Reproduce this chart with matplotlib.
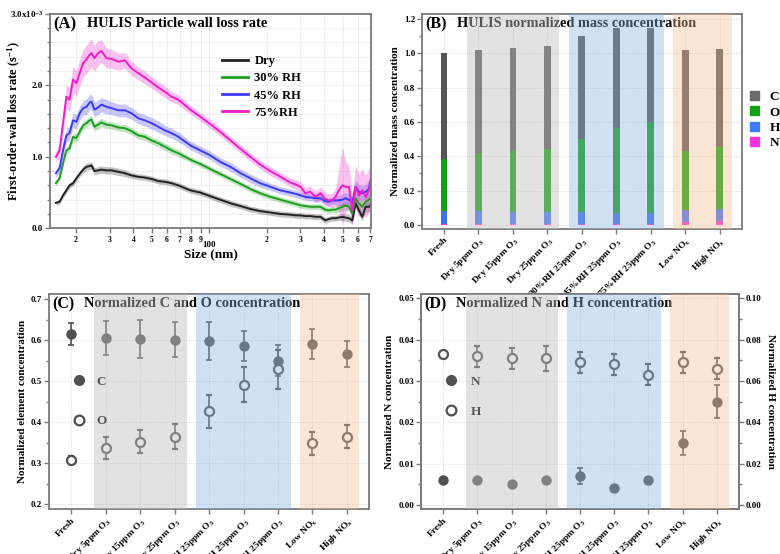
import numpy as np
import matplotlib
matplotlib.use("Agg")
import matplotlib.pyplot as plt
from matplotlib.patches import Patch
from matplotlib.lines import Line2D
from matplotlib.ticker import MultipleLocator

plt.rcParams.update({
    'font.family': ['Liberation Serif', 'DejaVu Serif'],
    'font.weight': 'bold',
    'axes.labelweight': 'bold',
    'mathtext.fontset': 'custom',
    'mathtext.rm': 'Liberation Serif:bold',
    'mathtext.it': 'Liberation Serif:italic:bold',
    'mathtext.bf': 'Liberation Serif:bold',
})

# ---------------- (A) wall loss rate vs. particle size ----------------
size_nm = [15.7, 16.4, 17.1, 17.8, 18.5, 19.3, 20.1, 20.9, 21.8, 22.7, 23.6, 24.1,
           25.0, 26.1, 27.2, 28.9, 30.7, 33.3, 36.1, 39.0, 42.4, 45.9, 49.8, 54.0,
           58.5, 63.4, 68.8, 79.5, 89.7, 101, 114, 129, 146, 164, 185, 209, 236,
           266, 285, 301, 319, 339, 361, 383, 405, 424, 442, 459, 478, 498, 518,
           540, 562, 585, 609, 634, 660, 687, 702]

# first-order wall loss rate, in units of 1e-3 s^-1
rate_dry = [0.355, 0.37, 0.46, 0.53, 0.60, 0.63, 0.70, 0.76, 0.82, 0.86, 0.87, 0.88,
            0.80, 0.81, 0.82, 0.81, 0.81, 0.79, 0.77, 0.74, 0.72, 0.71, 0.69, 0.66,
            0.65, 0.63, 0.60, 0.53, 0.50, 0.45, 0.40, 0.35, 0.31, 0.27, 0.24, 0.22, 0.20,
            0.19, 0.18, 0.18, 0.17, 0.17, 0.16, 0.16, 0.11, 0.13, 0.14, 0.14, 0.15, 0.16, 0.15,
            0.14, 0.11, 0.35, 0.25, 0.16, 0.30, 0.30, 0.32]
rate_rh30 = [0.63, 0.70, 0.91, 1.09, 1.12, 1.28, 1.26, 1.35, 1.44, 1.47, 1.51, 1.52,
             1.42, 1.45, 1.48, 1.45, 1.44, 1.41, 1.40, 1.36, 1.30, 1.28, 1.23, 1.19,
             1.14, 1.09, 1.05, 0.96, 0.90, 0.83, 0.76, 0.69, 0.62, 0.55, 0.49, 0.44, 0.40,
             0.36, 0.34, 0.32, 0.31, 0.30, 0.30, 0.30, 0.26, 0.25, 0.26, 0.26, 0.28, 0.30, 0.32,
             0.30, 0.21, 0.42, 0.35, 0.30, 0.37, 0.40, 0.42]
rate_rh45 = [0.77, 0.84, 1.09, 1.30, 1.33, 1.51, 1.49, 1.61, 1.68, 1.70, 1.76, 1.77,
             1.66, 1.69, 1.73, 1.70, 1.68, 1.65, 1.65, 1.61, 1.54, 1.51, 1.47, 1.42,
             1.37, 1.33, 1.28, 1.16, 1.09, 1.02, 0.93, 0.86, 0.77, 0.70, 0.63, 0.58, 0.53,
             0.50, 0.48, 0.46, 0.44, 0.43, 0.42, 0.42, 0.38, 0.37, 0.39, 0.39, 0.39, 0.40, 0.42,
             0.40, 0.35, 0.58, 0.51, 0.49, 0.51, 0.55, 0.67]
rate_rh75 = [1.00, 1.09, 1.47, 1.84, 1.80, 2.08, 2.03, 2.17, 2.31, 2.36, 2.43, 2.45,
             2.38, 2.45, 2.48, 2.38, 2.37, 2.33, 2.35, 2.24, 2.17, 2.11, 2.04, 1.97,
             1.91, 1.84, 1.80, 1.66, 1.56, 1.46, 1.35, 1.23, 1.11, 1.00, 0.89, 0.80, 0.72,
             0.64, 0.61, 0.58, 0.49, 0.51, 0.44, 0.49, 0.41, 0.39, 0.39, 0.44, 0.53, 0.60, 0.58,
             0.58, 0.25, 0.58, 0.46, 0.53, 0.44, 0.53, 0.67]

# half-width of the uncertainty band, same units
err_dry = [0.03, 0.03, 0.04, 0.04, 0.04, 0.04, 0.04, 0.04, 0.05, 0.05, 0.05, 0.05,
           0.05, 0.05, 0.05, 0.05, 0.05, 0.05, 0.05, 0.04, 0.04, 0.04, 0.04, 0.04,
           0.04, 0.04, 0.04, 0.04, 0.04, 0.04, 0.04, 0.04, 0.04, 0.04, 0.04, 0.04, 0.04,
           0.04, 0.04, 0.04, 0.04, 0.04, 0.04, 0.04, 0.04, 0.04, 0.04, 0.04, 0.04, 0.05, 0.05,
           0.05, 0.05, 0.06, 0.06, 0.06, 0.07, 0.07, 0.07]
err_rh30 = [0.04, 0.04, 0.05, 0.05, 0.05, 0.06, 0.06, 0.06, 0.06, 0.06, 0.06, 0.06,
            0.06, 0.06, 0.06, 0.05, 0.05, 0.05, 0.05, 0.05, 0.05, 0.05, 0.05, 0.05,
            0.05, 0.05, 0.05, 0.04, 0.04, 0.04, 0.04, 0.04, 0.04, 0.04, 0.04, 0.04, 0.04,
            0.04, 0.04, 0.04, 0.04, 0.04, 0.04, 0.04, 0.04, 0.04, 0.04, 0.05, 0.05, 0.06, 0.06,
            0.06, 0.06, 0.08, 0.08, 0.08, 0.08, 0.09, 0.10]
err_rh45 = [0.05, 0.06, 0.08, 0.09, 0.10, 0.10, 0.10, 0.10, 0.10, 0.11, 0.11, 0.11,
            0.10, 0.10, 0.10, 0.10, 0.09, 0.09, 0.09, 0.08, 0.08, 0.08, 0.08, 0.08,
            0.07, 0.07, 0.07, 0.06, 0.06, 0.06, 0.06, 0.06, 0.06, 0.06, 0.06, 0.05, 0.05,
            0.05, 0.05, 0.05, 0.05, 0.05, 0.05, 0.05, 0.05, 0.05, 0.05, 0.06, 0.07, 0.08, 0.08,
            0.08, 0.08, 0.10, 0.10, 0.10, 0.10, 0.12, 0.12]
err_rh75 = [0.08, 0.10, 0.14, 0.16, 0.17, 0.18, 0.18, 0.19, 0.19, 0.20, 0.20, 0.20,
            0.18, 0.17, 0.16, 0.14, 0.13, 0.12, 0.11, 0.10, 0.09, 0.09, 0.08, 0.08,
            0.08, 0.07, 0.07, 0.06, 0.06, 0.06, 0.06, 0.06, 0.06, 0.06, 0.06, 0.06, 0.06,
            0.06, 0.07, 0.07, 0.08, 0.08, 0.08, 0.09, 0.09, 0.09, 0.10, 0.12, 0.30, 0.55, 0.35,
            0.30, 0.22, 0.30, 0.30, 0.30, 0.30, 0.30, 0.30]

rate_series = [("Dry", rate_dry, err_dry, "#222222"),
               ("30% RH", rate_rh30, err_rh30, "#1f9e1f"),
               ("45% RH", rate_rh45, err_rh45, "#3b3bf5"),
               ("75%RH", rate_rh75, err_rh75, "#f01ec8")]

# ---------------- (B)-(D) elemental composition ----------------
conditions = ["Fresh", "Dry 5ppm O$_3$", "Dry 15ppm O$_3$", "Dry 25ppm O$_3$",
              "30%RH 25ppm O$_3$", "45%RH 25ppm O$_3$", "75%RH 25ppm O$_3$",
              "Low NO$_\\mathrm{x}$", "High NO$_\\mathrm{x}$"]

conc_C = [0.614, 0.605, 0.602, 0.601, 0.597, 0.585, 0.550, 0.590, 0.567]
err_C = [0.027, 0.042, 0.046, 0.042, 0.046, 0.037, 0.038, 0.036, 0.032]
conc_O = [0.307, 0.338, 0.352, 0.365, 0.426, 0.491, 0.529, 0.348, 0.365]
err_O = [0.010, 0.027, 0.028, 0.030, 0.041, 0.043, 0.047, 0.027, 0.028]
conc_N = [0.006, 0.006, 0.005, 0.006, 0.007, 0.004, 0.006, 0.015, 0.025]
err_N = [0.0005, 0.0005, 0.0005, 0.0005, 0.002, 0.0005, 0.0005, 0.003, 0.004]
conc_H = [0.073, 0.072, 0.071, 0.071, 0.069, 0.068, 0.063, 0.069, 0.066]
err_H = [0.001, 0.005, 0.005, 0.006, 0.005, 0.005, 0.005, 0.005, 0.005]

# condition groups shaded over the data: dry O3, humid O3, NOx
group_spans = [(0.66, 3.35, "#bfbfbf", 0.45),
               (3.62, 6.37, "#8db4e2", 0.40),
               (6.63, 8.36, "#f6be96", 0.40)]

SPINE = "#7a7a7a"


def style_axes(ax):
    for s in ax.spines.values():
        s.set_color(SPINE)
        s.set_linewidth(1.3)
    ax.tick_params(which='both', direction='out', color=SPINE, width=1.0,
                   labelsize=6.5, pad=1.5)
    ax.tick_params(which='major', length=3.5)
    ax.tick_params(which='minor', length=2.0)


def add_spans(ax):
    for x0, x1, c, a in group_spans:
        ax.axvspan(x0, x1, color=c, alpha=a, lw=0, zorder=6)


def category_axis(ax):
    x = np.arange(len(conditions))
    ax.set_xlim(-0.64, 8.64)
    ax.set_xticks(x)
    ax.set_xticklabels(conditions, rotation=45, ha='right', rotation_mode='anchor',
                       fontsize=6.8)
    ax.grid(True, axis='both', which='major', color='#cfcfcf', lw=0.6, ls=':', zorder=0)
    ax.set_axisbelow(True)
    return x


fig = plt.figure(figsize=(7.8, 5.54), dpi=100)

# ---- (A)
axA = fig.add_axes([0.064, 0.588, 0.412, 0.387])
sz = np.array(size_nm)
for label, rate, err, col in rate_series:
    r = np.array(rate) * 1e-3
    e = np.array(err) * 1e-3
    axA.fill_between(sz, r - e, r + e, color=col, alpha=0.28, lw=0)
    axA.plot(sz, r, color=col, lw=1.4, label=label)
axA.set_xscale('log')
axA.set_xlim(14.6, 707)
axA.set_ylim(0, 3.0e-3)
axA.set_yticks([0, 1e-3, 2e-3, 3e-3])
axA.set_yticklabels(["0.0", "1.0", "2.0", "3.0x10$^{-3}$"])
axA.yaxis.set_minor_locator(MultipleLocator(0.2e-3))
axA.set_xticks([100])
axA.set_xticklabels(["100"])
minor_pos = [20, 30, 40, 50, 60, 70, 80, 90, 200, 300, 400, 500, 600, 700]
axA.set_xticks(minor_pos, minor=True)
axA.set_xticklabels([str(p)[0] for p in minor_pos], minor=True)
style_axes(axA)
axA.tick_params(axis='x', which='minor', labelsize=5.5, pad=2, length=3.5)
axA.tick_params(axis='x', which='major', labelsize=6.5, pad=6)
axA.grid(True, which='both', color='#ececec', lw=0.6)
axA.set_axisbelow(True)
axA.set_xlabel("Size (nm)", fontsize=9.5, labelpad=-1)
axA.set_ylabel("First-order wall loss rate (s$^{-1}$)", fontsize=9)
axA.yaxis.set_label_coords(-0.083, 0.5)
axA.text(0.01, 0.99, "(A)", transform=axA.transAxes, fontsize=12, va='top', ha='left')
axA.text(0.115, 0.985, "HULIS Particle wall loss rate", transform=axA.transAxes,
         fontsize=10.4, va='top', ha='left')
legA = axA.legend(loc='upper left', bbox_to_anchor=(0.50, 0.86), frameon=False,
                  fontsize=9, handlelength=2.1, labelspacing=0.42, handletextpad=0.5)
for h in legA.get_lines():
    h.set_linewidth(2.0)

# ---- (B)
axB = fig.add_axes([0.541, 0.587, 0.410, 0.388])
xb = category_axis(axB)
elem_colors = {"C": "#555555", "O": "#10a010", "H": "#3f6ff2", "N": "#ff30d0"}
bottom = np.zeros(len(conditions))
for key, vals in [("N", conc_N), ("H", conc_H), ("O", conc_O), ("C", conc_C)]:
    v = np.array(vals)
    axB.bar(xb, v, width=0.2, bottom=bottom, color=elem_colors[key], zorder=2, lw=0)
    bottom = bottom + v
axB.set_ylim(-0.023, 1.23)
axB.set_yticks(np.arange(0, 1.21, 0.2))
axB.set_yticklabels([f"{t:.1f}" for t in np.arange(0, 1.21, 0.2)])
axB.yaxis.set_minor_locator(MultipleLocator(0.1))
style_axes(axB)
axB.tick_params(axis='x', labelsize=6.8)
axB.set_ylabel("Normalized mass concentration", fontsize=8, labelpad=3)
add_spans(axB)
axB.text(0.01, 0.99, "(B)", transform=axB.transAxes, fontsize=11.5, va='top', ha='left', zorder=5)
axB.text(0.11, 0.985, "HULIS normalized mass concentration", transform=axB.transAxes,
         fontsize=10.3, va='top', ha='left', zorder=5)
legB_handles = [Patch(color="#6b6b6b", label="C"), Patch(color="#14a014", label="O"),
                Patch(color="#3d7bff", label="H"), Patch(color="#ff33dd", label="N")]
axB.legend(handles=legB_handles, loc='upper left', bbox_to_anchor=(1.01, 0.665),
           frameon=False, fontsize=9.5, handlelength=0.65, handleheight=0.65,
           labelspacing=0.25, handletextpad=0.8, borderaxespad=0)

# ---- (C)
axC = fig.add_axes([0.063, 0.081, 0.410, 0.388])
xc = category_axis(axC)
dark = "#505050"
axC.errorbar(xc, conc_C, yerr=err_C, fmt='o', color=dark, ms=6.5,
             elinewidth=1.2, capsize=2.5, capthick=1.2, zorder=3)
axC.errorbar(xc, conc_O, yerr=err_O, fmt='o', color=dark, mfc='white', mec=dark,
             mew=1.6, ms=6.5, elinewidth=1.2, capsize=2.5, capthick=1.2, zorder=3)
axC.set_ylim(0.188, 0.712)
axC.set_yticks(np.arange(0.2, 0.71, 0.1))
axC.set_yticklabels([f"{t:.1f}" for t in np.arange(0.2, 0.71, 0.1)])
axC.yaxis.set_minor_locator(MultipleLocator(0.05))
style_axes(axC)
axC.tick_params(axis='x', labelsize=6.8)
axC.set_ylabel("Normalized element concentration", fontsize=8, labelpad=3)
add_spans(axC)
axC.text(0.01, 0.99, "(C)", transform=axC.transAxes, fontsize=11.5, va='top', ha='left', zorder=5)
axC.text(0.11, 0.985, "Normalized C and O concentration", transform=axC.transAxes,
         fontsize=10.4, va='top', ha='left', zorder=5)
legC_handles = [Line2D([], [], marker='o', ls='', color=dark, ms=7, label="C"),
                Line2D([], [], marker='o', ls='', color=dark, mfc='white', mew=1.6,
                       ms=7, label="O")]
axC.legend(handles=legC_handles, loc='upper left', bbox_to_anchor=(0.035, 0.645),
           frameon=False, fontsize=9.5, labelspacing=2.05, handletextpad=0.3,
           borderaxespad=0)

# ---- (D)
axD = fig.add_axes([0.540, 0.081, 0.407, 0.388])
xd = category_axis(axD)
axD.errorbar(xd, conc_N, yerr=err_N, fmt='o', color=dark, ms=6.5, elinewidth=1.2,
             capsize=2.5, capthick=1.2, zorder=3)
axD.set_ylim(-0.001, 0.051)
axD.set_yticks(np.arange(0, 0.051, 0.01))
axD.set_yticklabels([f"{t:.2f}" for t in np.arange(0, 0.051, 0.01)])
axD.yaxis.set_minor_locator(MultipleLocator(0.005))
style_axes(axD)
axD.tick_params(axis='x', labelsize=6.8)
axD.set_ylabel("Normalized N concentration", fontsize=8, labelpad=3)
axR = axD.twinx()
axR.errorbar(xd, conc_H, yerr=err_H, fmt='o', color=dark, mfc='white', mec=dark,
             mew=1.6, ms=6.5, elinewidth=1.2, capsize=2.5, capthick=1.2, zorder=3)
axR.set_ylim(-0.002, 0.102)
axR.set_yticks(np.arange(0, 0.101, 0.02))
axR.set_yticklabels([f"{t:.2f}" for t in np.arange(0, 0.101, 0.02)])
axR.yaxis.set_minor_locator(MultipleLocator(0.01))
style_axes(axR)
axR.set_ylabel("Normalized H concentration", fontsize=8, rotation=270, labelpad=10)
add_spans(axR)
axR.text(0.01, 0.99, "(D)", transform=axR.transAxes, fontsize=11.5, va='top', ha='left', zorder=5)
axR.text(0.11, 0.985, "Normalized N and H concentration", transform=axR.transAxes,
         fontsize=10.4, va='top', ha='left', zorder=5)
legD_handles = [Line2D([], [], marker='o', ls='', color=dark, ms=7, label="N"),
                Line2D([], [], marker='o', ls='', color=dark, mfc='white', mew=1.6,
                       ms=7, label="H")]
axR.legend(handles=legD_handles, loc='upper left', bbox_to_anchor=(0.035, 0.645),
           frameon=False, fontsize=9.5, labelspacing=1.35, handletextpad=0.5,
           borderaxespad=0)

fig.savefig("out.png", dpi=100)
